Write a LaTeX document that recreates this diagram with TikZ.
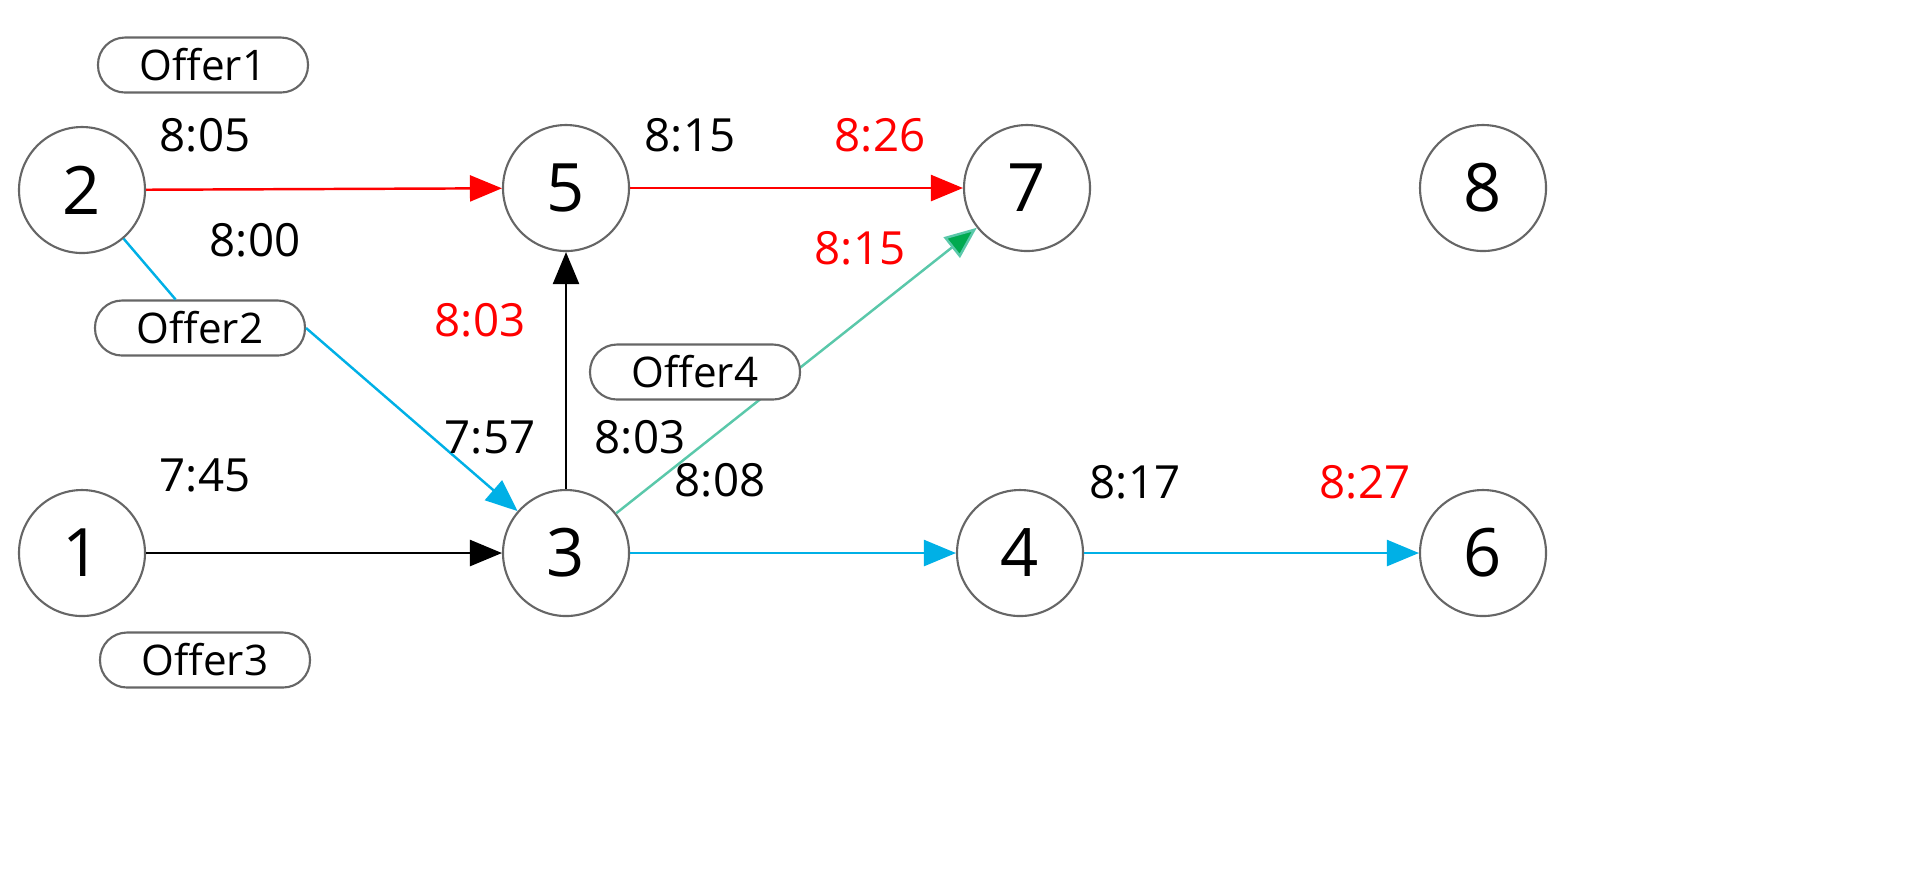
\documentclass[tikz,border=0pt]{standalone}
\usepackage{fontspec}
\setmainfont{Open Sans}
\usetikzlibrary{arrows.meta}
\definecolor{cy}{RGB}{0,176,230}
\definecolor{tl}{RGB}{90,200,170}
\definecolor{gr}{RGB}{0,170,80}
\definecolor{rd}{RGB}{255,0,0}
\begin{document}
\begin{tikzpicture}[
 st/.style={circle,draw=black!60,line width=0.6pt,minimum size=1.26cm,inner sep=0pt,font=\fontsize{19}{19}\selectfont,fill=white},
 of/.style={rounded corners=0.27cm,draw=black!60,line width=0.6pt,minimum width=2.1cm,minimum height=0.55cm,inner sep=0pt,font=\fontsize{12}{12}\selectfont,fill=white},
 lb/.style={font=\fontsize{13}{13}\selectfont},
 rl/.style={lb,text=rd},
 ar/.style={line width=0.7pt,-{Triangle[length=0.32cm,width=0.26cm]}}]
\useasboundingbox (0,0) rectangle (19.09,-8.79);
\node[st] (n2) at (0.82,-1.90) {2};
\node[st] (n5) at (5.66,-1.88) {5};
\node[st] (n7) at (10.27,-1.88) {7};
\node[st] (n8) at (14.83,-1.88) {8};
\node[st] (n1) at (0.82,-5.53) {1};
\node[st] (n3) at (5.66,-5.53) {3};
\node[st] (n4) at (10.20,-5.53) {4};
\node[st] (n6) at (14.83,-5.53) {6};
\node[of] (o1) at (2.03,-0.65) {Offer1};
\node[of] (o2) at (2.00,-3.28) {Offer2};
\node[of] (o3) at (2.05,-6.60) {Offer3};
\draw[ar,rd] (n2) -- (n5);
\draw[ar,rd] (n5) -- (n7);
\draw[ar,black] (n3) -- (n5);
\draw[ar,black] (n1) -- (n3);
\draw[ar,cy] (n3) -- (n4);
\draw[ar,cy] (n4) -- (n6);
\draw[line width=0.7pt,cy] (n2) -- (o2);
\draw[ar,cy] (o2.east) -- (n3);
\draw[line width=0.7pt,tl,-{Triangle[length=0.32cm,width=0.26cm,fill=gr]}] (n3) -- (n7);
\node[of] (o4) at (6.95,-3.72) {Offer4};
\node[lb] (t1) at (2.05,-1.35) {8:05};
\node[lb] (t2) at (2.55,-2.40) {8:00};
\node[lb] (t3) at (6.90,-1.35) {8:15};
\node[rl] (t4) at (8.80,-1.35) {8:26};
\node[rl] (t5) at (8.60,-2.48) {8:15};
\node[rl] (t6) at (4.80,-3.20) {8:03};
\node[lb] (t7) at (4.90,-4.37) {7:57};
\node[lb] (t8) at (6.40,-4.37) {8:03};
\node[lb] (t9) at (2.05,-4.75) {7:45};
\node[lb] (t10) at (7.20,-4.80) {8:08};
\node[lb] (t11) at (11.35,-4.82) {8:17};
\node[rl] (t12) at (13.65,-4.82) {8:27};
\end{tikzpicture}
\end{document}
